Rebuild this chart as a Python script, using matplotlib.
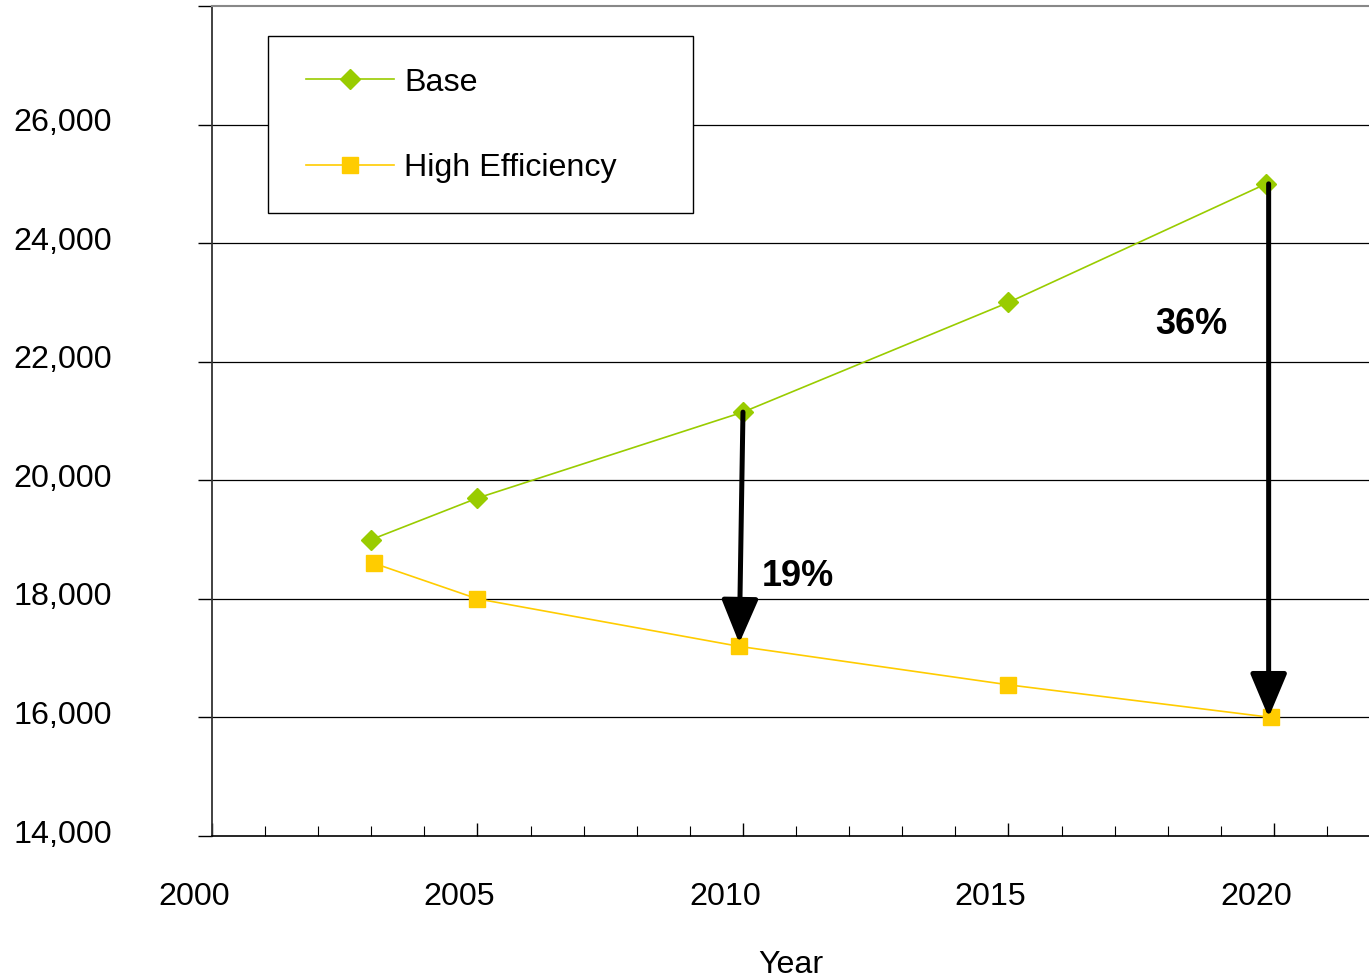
import numpy as np
import matplotlib
matplotlib.use('Agg')
import matplotlib.pyplot as plt
from matplotlib.patches import Rectangle
from matplotlib.ticker import MultipleLocator, FuncFormatter
from matplotlib.transforms import ScaledTranslation

plt.rcParams.update({
    'font.family': 'Liberation Sans',
    'font.size': 23.2,
})

# data
base_years = [2003.0, 2005.0, 2010.0, 2015.0, 2019.85]
base_vals = [19000, 19700, 21150, 23000, 25000]
he_years = [2003.05, 2005.0, 2009.92, 2015.0, 2019.95]
he_vals = [18600, 18000, 17200, 16550, 16000]
series_names = ['Base', 'High Efficiency']
drops = [('19%', 2010.0, 21150, 2009.93, 17250, 2010.36, 18370),
         ('36%', 2019.9, 25000, 2019.9, 16000, 2017.76, 22620)]

GREEN = '#99CC00'
YELLOW = '#FFCC00'

fig = plt.figure(figsize=(13.69, 9.8), dpi=100)
ax = fig.add_axes([212 / 1369, 1 - 836 / 980, 1157 / 1369, 830 / 980])

ax.plot(base_years, base_vals, color=GREEN, lw=1.2, marker='D', ms=10.5,
        mec=GREEN, mfc=GREEN, label=series_names[0], zorder=3)
ax.plot(he_years, he_vals, color=YELLOW, lw=1.2, marker='s', ms=12,
        mec=YELLOW, mfc=YELLOW, label=series_names[1], zorder=3)

for txt, x0, y0, x1, y1, tx, ty in drops:
    ax.annotate('', xy=(x1, y1), xytext=(x0, y0),
                arrowprops=dict(arrowstyle='-|>,head_width=0.42,head_length=1.0',
                                mutation_scale=27, lw=3.6, color='black',
                                shrinkA=0, shrinkB=0), zorder=4)
    ax.text(tx, ty, txt, fontsize=26, fontweight='bold', ha='left', va='center')

ax.set_xlim(2000, 2021.79)
ax.set_ylim(14000, 28000)

ax.xaxis.set_major_locator(MultipleLocator(5))
ax.xaxis.set_minor_locator(MultipleLocator(1))
ax.yaxis.set_major_locator(MultipleLocator(2000))
ax.yaxis.set_major_formatter(FuncFormatter(
    lambda v, p: '' if v > 27000 else f'{int(v):,}'))

for y in range(16000, 27000, 2000):
    ax.axhline(y, color='black', lw=0.9, zorder=1)

ax.tick_params(axis='x', which='major', direction='in', length=9.5, width=1,
               pad=33)
ax.tick_params(axis='x', which='minor', direction='in', length=7, width=0.8)
ax.tick_params(axis='y', direction='out', length=10, width=1, pad=62)

xoff = ScaledTranslation(-18 / 100, 0, fig.dpi_scale_trans)
for lab in ax.get_xticklabels():
    lab.set_transform(lab.get_transform() + xoff)
yoff = ScaledTranslation(0, 5 / 100, fig.dpi_scale_trans)
for lab in ax.get_yticklabels():
    lab.set_transform(lab.get_transform() + yoff)

ax.spines['right'].set_visible(False)
ax.spines['top'].set_color('#888888')
ax.spines['top'].set_linewidth(1.5)
ax.spines['left'].set_color('#333333')
ax.spines['left'].set_linewidth(1.3)
ax.spines['bottom'].set_linewidth(1.2)

ax.set_xlabel('Year')
ax.xaxis.set_label_coords(0.5, -0.155)
ax.xaxis.label.set_va('center')

# legend box
rx0, ry0 = (268 - 212) / 1157, (836 - 213) / 830
rw, rh = (693 - 268) / 1157, (213 - 36) / 830
ax.add_patch(Rectangle((rx0, ry0), rw, rh, transform=ax.transAxes,
                       facecolor='white', edgecolor='black', lw=1, zorder=5))
leg = ax.legend(loc='upper left',
                bbox_to_anchor=(rx0 + 7 / 1157, ry0 + rh - 1 / 830),
                frameon=False, borderaxespad=0, borderpad=0.95,
                handlelength=2.75, handletextpad=0.3, labelspacing=1.72)
leg.set_zorder(6)

fig.savefig('out.png', dpi=100, facecolor='white')
